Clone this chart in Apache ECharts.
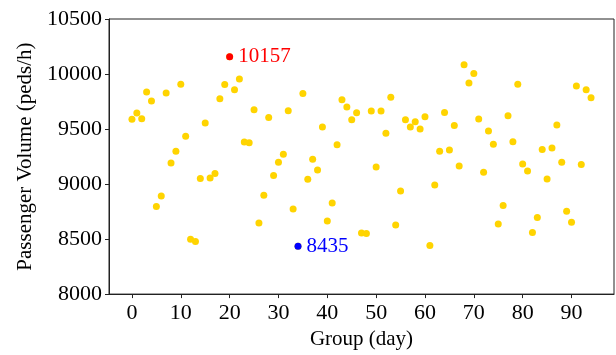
<!DOCTYPE html>
<html><head><meta charset="utf-8">
<script src="https://cdn.jsdelivr.net/npm/echarts@6/dist/echarts.min.js"></script>
<style>html,body{margin:0;padding:0;background:#fff}#c{width:616px;height:355px}</style>
</head><body><div id="c"></div>
<script>
const days = [0,1,2,3,4,5,6,7,8,9,10,11,12,13,14,15,16,17,18,19,20,21,22,23,24,25,26,27,28,29,30,31,32,33,34,35,36,37,38,39,40,41,42,43,44,45,46,47,48,49,50,51,52,53,54,55,56,57,58,59,60,61,62,63,64,65,66,67,68,69,70,71,72,73,74,75,76,77,78,79,80,81,82,83,84,85,86,87,88,89,90,91,92,93,94];
const volumes = [9588,9645,9594,9836,9754,8796,8892,9827,9191,9298,
9908,9434,8499,8478,9050,9554,9055,9095,9776,9905,
10157,9857,9954,9382,9376,9676,8647,8898,9606,9077,
9198,9270,9667,8774,8435,9824,9044,9225,9128,9518,
8665,8829,9358,9767,9700,9585,9649,8556,8551,9663,
9155,9663,9461,9790,8629,8938,9585,9518,9567,9500,
9612,8442,8992,9298,9651,9310,9533,9164,10084,9918,
10005,9591,9107,9482,9361,8638,8805,9621,9385,9908,
9183,9119,8560,8696,9313,9046,9328,9537,9198,8753,
8653,9890,9177,9857,9785];
const xTicks = [0,10,20,30,40,50,60,70,80,90];
const yTicks = [8000,8500,9000,9500,10000,10500];

const pts = days.map((d,i)=>[d, volumes[i]]);
const maxV = Math.max(...volumes), minV = Math.min(...volumes);
const maxPt = [days[volumes.indexOf(maxV)], maxV];
const minPt = [days[volumes.indexOf(minV)], minV];

const font = "'Liberation Serif', 'Times New Roman', serif";
const fs = 21;
const chart = echarts.init(document.getElementById('c'), null, {renderer:'canvas'});
chart.setOption({
  animation:false,
  backgroundColor:'#fff',
  textStyle:{fontFamily:font},
  grid:{left:109, right:2, top:19, bottom:60, show:true, borderColor:'#222', borderWidth:1, backgroundColor:'transparent'},
  xAxis:{
    type:'value', min:-4.7, max:98.7,
    name:'Group (day)', nameLocation:'middle', nameGap:32,
    nameTextStyle:{fontFamily:font, fontSize:fs, color:'#000'},
    axisLine:{show:true, onZero:false, lineStyle:{color:'#222', width:1}},
    axisTick:{show:true, inside:false, length:4, lineStyle:{color:'#222'}, customValues:xTicks},
    axisLabel:{fontFamily:font, fontSize:22, color:'#000', margin:8, customValues:xTicks, formatter:v=>String(v)},
    splitLine:{show:false}
  },
  yAxis:{
    type:'value', min:yTicks[0], max:yTicks[yTicks.length-1], interval:500,
    name:'Passenger Volume (peds/h)', nameLocation:'middle', nameGap:64,
    nameTextStyle:{fontFamily:font, fontSize:fs, color:'#000'},
    axisLine:{show:true, onZero:false, lineStyle:{color:'#222', width:1}},
    axisTick:{show:true, inside:false, length:4, lineStyle:{color:'#222'}},
    axisLabel:{fontFamily:font, fontSize:22, color:'#000', margin:7, formatter:v=>String(v)},
    splitLine:{show:false}
  },
  series:[
    {type:'scatter', data:pts, symbolSize:7, itemStyle:{color:'#FFD400', opacity:1}, z:2},
    {type:'scatter', data:[maxPt], symbolSize:7, itemStyle:{color:'#FF0000', opacity:1}, z:3,
     label:{show:true, position:'right', distance:5, color:'#FF0000', fontFamily:font, fontSize:fs, formatter:p=>String(p.value[1])}},
    {type:'scatter', data:[minPt], symbolSize:7, itemStyle:{color:'#0000FF', opacity:1}, z:3,
     label:{show:true, position:'right', distance:5, color:'#0000FF', fontFamily:font, fontSize:fs, formatter:p=>String(p.value[1])}}
  ]
});
</script></body></html>
